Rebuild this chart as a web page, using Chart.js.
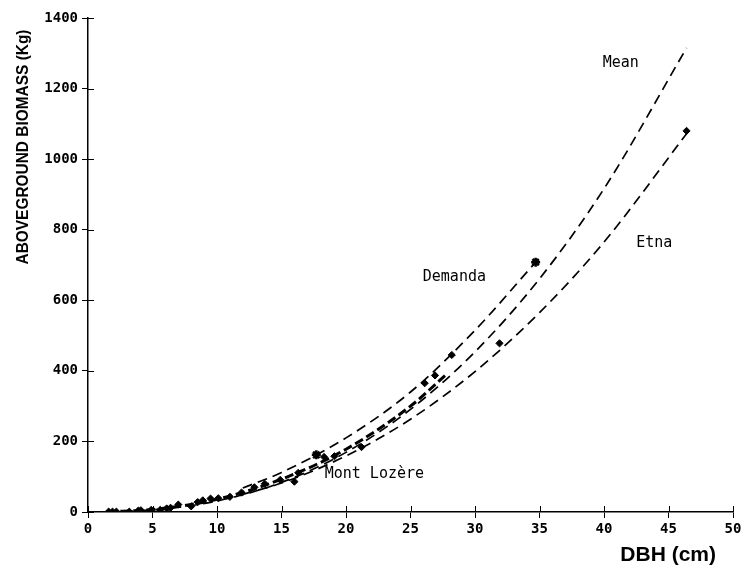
<!DOCTYPE html>
<html>
<head>
<meta charset="utf-8">
<script src="https://cdn.jsdelivr.net/npm/chart.js@4/dist/chart.umd.min.js"></script>
<style>
	html, body { margin: 0; padding: 0; background: #fff; }
	#wrap { width: 747px; height: 568px; }
</style>
</head>
<body>
<div id="wrap"><canvas id="chart" width="747" height="568"></canvas></div>
<script>
// tick values
const xTicks = [0, 5, 10, 15, 20, 25, 30, 35, 40, 45, 50];
const yTicks = [0, 200, 400, 600, 800, 1000, 1200, 1400];

// fitted curves
const meanDbh = [1.5, 5, 10, 15, 20, 25, 30, 35, 40, 46.4];
const meanMass = [0.5, 6, 31, 84, 169, 291, 454, 661, 916, 1315];

const etnaDbh = [12, 15, 20, 25, 30, 35, 40, 46.4];
const etnaMass = [50, 82, 159, 263, 398, 565, 765, 1072];

const demandaDbh = [12, 15, 20, 25, 30, 34.7];
const demandaMass = [68, 112, 210, 340, 515, 708];

const lozereDbh = [1.5, 5, 10, 15, 20, 25, 27.9];
const lozereMass = [0.5, 7, 36, 93, 178, 300, 394];

// measured trees (diamonds)
const treeDbh = [1.6, 1.9, 2.2, 3.2, 3.9, 4.1, 4.9, 5.6, 6.1, 6.4, 7.0, 8.0, 8.5, 8.9, 9.5, 10.1, 11.0, 11.9, 12.9, 13.7, 14.9, 16.0, 16.3, 18.3, 19.1, 21.2, 26.1, 26.9, 28.2, 31.9, 46.4];
const treeMass = [1, 1, 1, 1, 4, 5, 6, 6, 10, 12, 21, 16, 28, 33, 38, 39, 43, 55, 70, 80, 91, 86, 111, 156, 158, 184, 365, 387, 445, 478, 1080];

// measured trees (stars)
const starDbh = [17.7, 34.7];
const starMass = [162, 708];

// curve names and where they are written
const curveNames = ["Mean", "Etna", "Demanda", "Mont Lozère"];
const nameDbh = [41.3, 43.9, 28.4, 22.2];
const nameMass = [1272, 762, 666, 108];

function pairs(xs, ys) {
	let out = [];
	for (let i = 0; i < xs.length; i++) {
		out.push({ x: xs[i], y: ys[i] });
	}
	return out;
}

function curve(label, xs, ys, width, dash) {
	return {
		type: "line",
		label: label,
		data: pairs(xs, ys),
		showLine: true,
		borderColor: "#000",
		borderWidth: width,
		borderDash: dash,
		pointRadius: 0,
		fill: false,
		cubicInterpolationMode: "monotone",
		order: 2,
	};
}

// extra drawing: inner halves of ticks, curve names, axis titles
const extras = {
	id: "extras",
	afterDraw(chart) {
		const ctx = chart.ctx;
		const xs = chart.scales.x;
		const ys = chart.scales.y;
		const area = chart.chartArea;
		ctx.save();
		ctx.strokeStyle = "#000";
		ctx.lineWidth = 1;
		ctx.beginPath();
		yTicks.forEach((v) => {
			const p = Math.round(ys.getPixelForValue(v)) + 0.5;
			ctx.moveTo(area.left, p);
			ctx.lineTo(area.left + 6, p);
		});
		xTicks.forEach((v) => {
			const p = Math.round(xs.getPixelForValue(v)) + 0.5;
			ctx.moveTo(p, area.bottom);
			ctx.lineTo(p, area.bottom - 6);
		});
		ctx.stroke();

		ctx.fillStyle = "#000";
		ctx.font = '15px "DejaVu Sans Mono"';
		ctx.textAlign = "center";
		ctx.textBaseline = "middle";
		curveNames.forEach((name, i) => {
			ctx.fillText(name, xs.getPixelForValue(nameDbh[i]), ys.getPixelForValue(nameMass[i]));
		});

		// x title
		ctx.font = 'bold 21px "Liberation Sans", Arial, sans-serif';
		ctx.textAlign = "right";
		ctx.fillText("DBH (cm)", 716, 555);

		// y title, squeezed to the width of the original
		const yTitle = "ABOVEGROUND BIOMASS (Kg)";
		ctx.font = 'bold 17px "Liberation Sans", Arial, sans-serif';
		const w = ctx.measureText(yTitle).width;
		ctx.translate(23, 147);
		ctx.rotate(-Math.PI / 2);
		ctx.scale(235 / w, 1);
		ctx.textAlign = "center";
		ctx.fillText(yTitle, 0, 0);
		ctx.restore();
	},
};

const tickFont = { family: "DejaVu Sans Mono", size: 14, weight: "bold" };

new Chart(document.getElementById("chart"), {
	type: "scatter",
	data: {
		datasets: [
			{
				label: "Trees",
				data: pairs(treeDbh, treeMass),
				pointStyle: "rectRot",
				pointRadius: 3.6,
				backgroundColor: "#000",
				borderColor: "#000",
				borderWidth: 1,
				order: 0,
			},
			{
				label: "Trees (star)",
				data: pairs(starDbh, starMass),
				pointStyle: "star",
				pointRadius: 4.5,
				backgroundColor: "#000",
				borderColor: "#000",
				borderWidth: 2.5,
				order: 0,
			},
			curve("Mean", meanDbh, meanMass, 1.7, [10, 6]),
			curve("Etna", etnaDbh, etnaMass, 1.7, [10, 6]),
			curve("Demanda", demandaDbh, demandaMass, 1.7, [10, 6]),
			curve("Mont Lozère", lozereDbh, lozereMass, 3, [9, 4]),
		],
	},
	options: {
		responsive: false,
		animation: false,
		layout: { padding: { left: 0, right: 14, top: 18, bottom: 0 } },
		plugins: {
			legend: { display: false },
			tooltip: { enabled: false },
		},
		scales: {
			x: {
				type: "linear",
				min: 0,
				max: 50,
				afterBuildTicks: (s) => { s.ticks = xTicks.map((v) => ({ value: v })); },
				afterFit: (s) => { s.height = 56; },
				border: { display: true, color: "#000", width: 1.5 },
				grid: { drawOnChartArea: false, drawTicks: true, tickLength: 6, color: "#000" },
				ticks: { color: "#000", font: tickFont, padding: 3, maxRotation: 0, autoSkip: false, callback: (v) => String(v) },
			},
			y: {
				type: "linear",
				min: 0,
				max: 1400,
				afterBuildTicks: (s) => { s.ticks = yTicks.map((v) => ({ value: v })); },
				afterFit: (s) => { s.width = 88; },
				border: { display: true, color: "#000", width: 1.5 },
				grid: { drawOnChartArea: false, drawTicks: true, tickLength: 6, color: "#000" },
				ticks: { color: "#000", font: tickFont, padding: 4, autoSkip: false, callback: (v) => String(v) },
			},
		},
	},
	plugins: [extras],
});
</script>
</body>
</html>
